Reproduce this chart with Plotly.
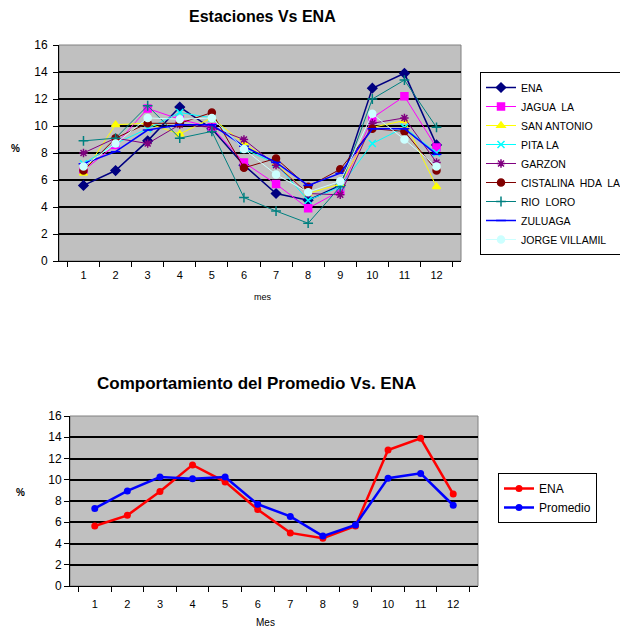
import plotly.graph_objects as go

meses = ["1", "2", "3", "4", "5", "6", "7", "8", "9", "10", "11", "12"]

# porcentaje mensual por estacion
ena = [5.6, 6.7, 8.9, 11.4, 9.8, 7.1, 5.0, 4.5, 5.6, 12.8, 13.9, 8.6]
jagua_la = [6.7, 8.6, 11.3, 10.5, 9.9, 7.3, 5.7, 3.9, 5.2, 10.6, 12.2, 8.4]
san_antonio = [6.5, 10.1, 10.2, 9.4, 10.6, 8.7, 7.2, 5.0, 5.7, 9.9, 10.4, 5.5]
pita_la = [7.2, 8.7, 9.8, 11.0, 10.6, 8.3, 7.2, 4.5, 5.5, 8.7, 9.9, 8.0]
garzon = [8.0, 9.1, 8.7, 10.1, 9.9, 9.0, 7.1, 5.0, 4.9, 10.2, 10.6, 7.3]
cistalina = [6.7, 9.1, 10.2, 10.2, 11.0, 6.9, 7.6, 5.5, 6.8, 9.8, 9.6, 6.7]
rio_loro = [8.9, 9.1, 11.5, 9.1, 9.6, 4.7, 3.7, 2.8, 5.5, 12.0, 13.4, 9.9]
zuluaga = [7.2, 8.1, 9.7, 10.1, 10.1, 8.5, 7.3, 5.6, 6.5, 9.8, 9.8, 7.9]
jorge_villamil = [7.0, 8.7, 10.6, 10.5, 10.6, 8.3, 6.4, 5.1, 5.9, 10.9, 9.0, 7.0]

# segundo grafico
ena_2 = [5.65, 6.65, 8.9, 11.4, 9.8, 7.2, 5.0, 4.5, 5.65, 12.8, 13.9, 8.65]
promedio = [7.3, 8.95, 10.25, 10.1, 10.25, 7.7, 6.55, 4.7, 5.75, 10.15, 10.6, 7.6]

estaciones = [
    ("ENA", ena, "#000080", "diamond", 1.5),
    ("JAGUA  LA", jagua_la, "#FF00FF", "square", 1),
    ("SAN ANTONIO", san_antonio, "#FFFF00", "triangle-up", 1),
    ("PITA LA", pita_la, "#00FFFF", "x-thin-open", 1),
    ("GARZON", garzon, "#800080", "asterisk-open", 1),
    ("CISTALINA  HDA  LA", cistalina, "#800000", "circle", 1),
    ("RIO  LORO", rio_loro, "#008080", "cross-thin-open", 1),
    ("ZULUAGA", zuluaga, "#0000FF", "line-ew-open", 1.5),
    ("JORGE VILLAMIL", jorge_villamil, "#CCFFFF", "circle", 1),
]

# la pagina deja 8 px de margen arriba y a la izquierda
W, H, OFF = 620, 624, 8


def fx(px):
    return (px - OFF) / W


def fy(py):
    return 1 - (py - OFF) / H


fig = go.Figure()

for nombre, vals, color, simbolo, ancho in estaciones:
    fig.add_trace(go.Scatter(
        x=meses, y=vals, name=nombre, mode="lines+markers",
        line=dict(color=color, width=ancho),
        marker=dict(symbol=simbolo, size=7, color=color,
                    line=dict(color=color, width=1.5)),
        xaxis="x", yaxis="y", legend="legend",
    ))

fig.add_trace(go.Scatter(
    x=meses, y=ena_2, name="ENA", mode="lines+markers",
    line=dict(color="#FF0000", width=2.5),
    marker=dict(symbol="circle", size=7, color="#FF0000"),
    xaxis="x2", yaxis="y2", legend="legend2",
))
fig.add_trace(go.Scatter(
    x=meses, y=promedio, name="Promedio", mode="lines+markers",
    line=dict(color="#0000FF", width=2.5),
    marker=dict(symbol="circle", size=7, color="#0000FF"),
    xaxis="x2", yaxis="y2", legend="legend2",
))

eje_x = dict(type="category", tickson="boundaries", ticks="outside", ticklen=5,
             tickcolor="black", showline=True, linecolor="black", showgrid=False,
             tickfont=dict(size=11, color="black"), fixedrange=True)
eje_y = dict(range=[0, 16], dtick=2, ticks="outside", ticklen=5, tickcolor="black",
             showline=True, linecolor="black", showgrid=True, gridcolor="#000000",
             gridwidth=1.5, zeroline=False, tickfont=dict(size=12, color="black"),
             fixedrange=True)

fig.update_layout(
    width=W, height=H, autosize=False,
    margin=dict(l=0, r=0, t=0, b=0, autoexpand=False),
    paper_bgcolor="white", plot_bgcolor="#C0C0C0",
    font=dict(family="Liberation Sans, Arial, sans-serif", color="black"),
    xaxis=dict(eje_x, domain=[fx(59), fx(461)], anchor="y", ticklabelstandoff=4),
    yaxis=dict(eje_y, domain=[fy(261), fy(45)], anchor="x", ticklabelstandoff=3),
    xaxis2=dict(eje_x, domain=[fx(70), fx(478)], anchor="y2", ticklabelstandoff=8),
    yaxis2=dict(eje_y, domain=[fy(586), fy(416)], anchor="x2"),
    legend=dict(x=fx(480), y=fy(72), xanchor="left", yanchor="top",
                bordercolor="black", borderwidth=1, bgcolor="white",
                font=dict(size=10.5), tracegroupgap=0),
    legend2=dict(x=fx(498), y=fy(473), xanchor="left", yanchor="top",
                 bordercolor="black", borderwidth=1, bgcolor="white",
                 font=dict(size=12), entrywidth=85),
    showlegend=True,
)

# bordes grises del area de trazado
for ref in ["x", "x2"]:
    yr = "y" if ref == "x" else "y2"
    fig.add_shape(type="rect", xref=ref + " domain", yref=yr + " domain",
                  x0=0, x1=1, y0=0, y1=1, line=dict(color="#808080", width=1),
                  layer="below")

anotaciones = [
    ("<b>Estaciones Vs ENA</b>", 262, 17, 16),
    ("<b>Comportamiento del Promedio Vs. ENA</b>", 256, 383, 17),
    ("<b>%</b>", 15, 148, 10),
    ("<b>%</b>", 20, 492, 10),
    ("mes", 263, 297, 9),
    ("Mes", 265, 622, 10),
]
for texto, px_x, px_y, tam in anotaciones:
    fig.add_annotation(text=texto, xref="paper", yref="paper",
                       x=fx(px_x), y=fy(px_y), showarrow=False,
                       xanchor="center", yanchor="middle",
                       font=dict(size=tam, color="black"))

fig.write_html("out.html")
